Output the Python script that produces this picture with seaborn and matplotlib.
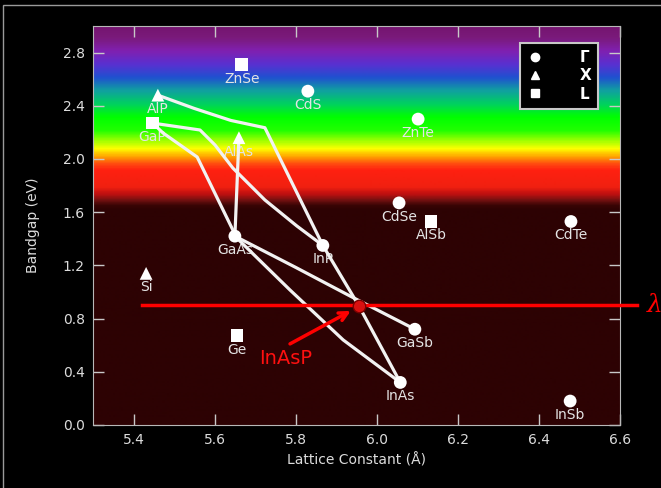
import numpy as np
import pandas as pd
import matplotlib
matplotlib.use('Agg')
import matplotlib.pyplot as plt
import seaborn as sns
from matplotlib.colors import LinearSegmentedColormap
from matplotlib.lines import Line2D
from matplotlib.patches import Rectangle

# binary semiconductors: lattice constant (A), bandgap (eV), gap type
materials = ['ZnSe', 'CdS', 'AlP', 'GaP', 'AlAs', 'ZnTe', 'CdSe', 'AlSb', 'CdTe',
             'GaAs', 'InP', 'Si', 'GaSb', 'Ge', 'InAs', 'InSb']
lattice = [5.667, 5.830, 5.460, 5.447, 5.660, 6.102, 6.055, 6.134, 6.479,
           5.650, 5.867, 5.431, 6.094, 5.655, 6.058, 6.477]
bandgap = [2.71, 2.51, 2.48, 2.27, 2.16, 2.30, 1.67, 1.53, 1.53,
           1.42, 1.35, 1.14, 0.72, 0.67, 0.32, 0.18]
gap_type = ['L', 'Γ', 'X', 'L', 'X', 'Γ', 'Γ', 'L', 'Γ',
            'Γ', 'Γ', 'X', 'Γ', 'L', 'Γ', 'Γ']

# ternary alloy curves
alinp_x = [5.460, 5.550, 5.640, 5.724, 5.867]
alinp_y = [2.48, 2.38, 2.29, 2.235, 1.35]
gainp_x = [5.447, 5.564, 5.601, 5.645, 5.724, 5.803, 5.867]
gainp_y = [2.27, 2.218, 2.105, 1.932, 1.692, 1.496, 1.35]
gaasp_x = [5.447, 5.473, 5.557, 5.645, 5.650]
gaasp_y = [2.27, 2.195, 2.015, 1.466, 1.42]
algaas_x = [5.660, 5.650]
algaas_y = [2.16, 1.42]
ingaas_x = [5.650, 5.786, 5.917, 6.058]
ingaas_y = [1.42, 1.015, 0.64, 0.32]
gaassb_x = [5.650, 5.800, 5.934, 6.094]
gaassb_y = [1.42, 1.185, 0.97, 0.72]
inasp_x = [5.867, 5.956, 6.058]
inasp_y = [1.35, 0.895, 0.32]

# InAsP target point and wavelength line
target_x, target_y = 5.956, 0.895
lambda_line_x = [5.42, 6.642]
lambda_line_y = [0.9, 0.9]
arrow_tail = (5.78, 0.60)
arrow_head = (5.942, 0.868)
label_pos = (5.774, 0.50)

df = pd.DataFrame({'material': materials, 'lattice': lattice,
                   'bandgap': bandgap, 'gap': gap_type})

fig, ax = plt.subplots(figsize=(6.61, 4.88), dpi=100)
fig.patch.set_facecolor('black')
ax.set_position([93 / 661, 1 - 425 / 488, 527 / 661, 399 / 488])

# spectrum background
spec = [(0.00, '#2d0203'), (1.62, '#2d0203'), (1.65, '#380404'), (1.69, '#701010'),
        (1.74, '#c01010'), (1.79, '#f02010'), (1.92, '#ff2010'), (1.97, '#ff5010'),
        (2.02, '#ffa000'), (2.08, '#ffff00'), (2.14, '#a0ff00'), (2.22, '#20ff00'),
        (2.32, '#00ff00'), (2.42, '#00d060'), (2.52, '#10a0a0'), (2.62, '#2050d0'),
        (2.72, '#5a30d0'), (2.82, '#8020b0'), (2.92, '#7a1a7a'), (3.00, '#751570')]
cmap = LinearSegmentedColormap.from_list('spec', [(v / 3.0, c) for v, c in spec])
grad = np.linspace(0, 3, 800).reshape(-1, 1)
ax.imshow(grad, extent=[5.3, 6.6, 0, 3.0], origin='lower', aspect='auto',
          cmap=cmap, vmin=0, vmax=3, zorder=0)

# alloy curves
for xs, ys in [(alinp_x, alinp_y), (gainp_x, gainp_y), (gaasp_x, gaasp_y),
               (algaas_x, algaas_y), (ingaas_x, ingaas_y), (gaassb_x, gaassb_y),
               (inasp_x, inasp_y)]:
    ax.plot(xs, ys, color='#f2f2f2', lw=2.3, zorder=3, solid_capstyle='round')

sns.scatterplot(data=df, x='lattice', y='bandgap', style='gap',
                style_order=['Γ', 'X', 'L'],
                markers={'Γ': 'o', 'X': '^', 'L': 's'},
                color='white', s=85, linewidth=0, legend=False, ax=ax, zorder=4)

for _, r in df.iterrows():
    ax.annotate(r['material'], (r['lattice'], r['bandgap']), xytext=(0, -5),
                textcoords='offset points', ha='center', va='top',
                color='#e4e4e4', fontsize=10, zorder=2)

# wavelength line, target point, arrow
ax.plot(lambda_line_x, lambda_line_y, color='#ff0000', lw=2.5, clip_on=False, zorder=5)
ax.plot(target_x, target_y, 'o', ms=9, mfc='#d81010', mec='#7a0000', mew=1, zorder=6)
ax.annotate('', xy=arrow_head, xytext=arrow_tail,
            arrowprops=dict(arrowstyle='->', color='#ff0000', lw=2.5, mutation_scale=15),
            zorder=5)
ax.text(*label_pos, 'InAsP', color='#ff1010', fontsize=14, ha='center', va='center', zorder=5)
ax.text(6.665, 0.9, 'λ', color='#ff0000', fontsize=18, style='italic',
        family='DejaVu Serif', ha='left', va='center', clip_on=False)

ax.set_xlim(5.3, 6.6)
ax.set_ylim(0, 3.0)
ax.set_xticks(np.arange(5.4, 6.61, 0.2))
ax.set_yticks(np.arange(0, 2.81, 0.4))
ax.xaxis.set_major_formatter(matplotlib.ticker.FormatStrFormatter('%.1f'))
ax.yaxis.set_major_formatter(matplotlib.ticker.FormatStrFormatter('%.1f'))
ax.tick_params(direction='in', length=8, width=1, color='#c8c8c8', labelcolor='#dcdcdc',
               labelsize=10, top=True, right=True, pad=6)
for sp in ax.spines.values():
    sp.set_color('#b8b8b8')
ax.set_xlabel('Lattice Constant (Å)', color='#dcdcdc', fontsize=10, labelpad=4)
ax.set_ylabel('Bandgap (eV)', color='#dcdcdc', fontsize=10, labelpad=16)

handles = [Line2D([], [], marker=m, color='white', linestyle='none', markersize=6)
           for m in ['o', '^', 's']]
leg = ax.legend(handles, ['Γ', 'X', 'L'], loc='upper right', bbox_to_anchor=(0.958, 0.957),
                borderaxespad=0, frameon=True, facecolor='black', edgecolor='#c8c8c8',
                framealpha=1, fancybox=False, handletextpad=2.4, labelspacing=0.22,
                borderpad=0.45, handlelength=1.0, prop={'weight': 'bold', 'size': 11})
leg.get_frame().set_linewidth(1.5)
for t in leg.get_texts():
    t.set_color('white')

fig.add_artist(Rectangle((3 / 661, -0.01), 1.0, 1 - 5 / 488 + 0.01, transform=fig.transFigure,
                         fill=False, edgecolor='#9a9a9a', lw=1))

fig.savefig('out.png', dpi=100, facecolor='black')
